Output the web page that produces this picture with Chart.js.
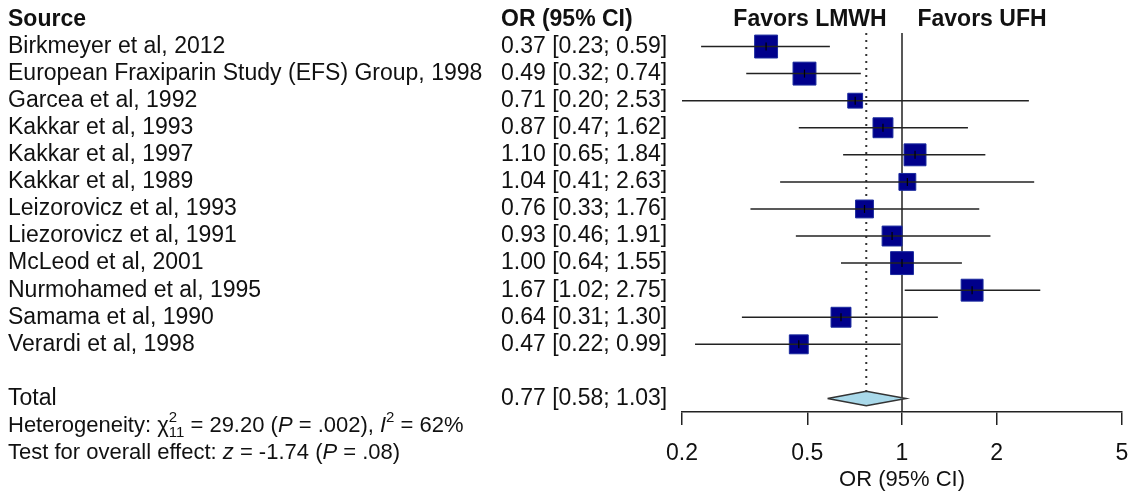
<!DOCTYPE html>
<html>
<head>
<meta charset="utf-8">
<script src="https://cdn.jsdelivr.net/npm/chart.js@4.4.1/dist/chart.umd.min.js"></script>
<style>
  html, body { margin: 0; background: #fff; }
</style>
</head>
<body>
<canvas id="forest" width="1130" height="493"></canvas>
<script>
// Forest plot: LMWH vs UFH

const studies = [
    'Birkmeyer et al, 2012',
    'European Fraxiparin Study (EFS) Group, 1998',
    'Garcea et al, 1992',
    'Kakkar et al, 1993',
    'Kakkar et al, 1997',
    'Kakkar et al, 1989',
    'Leizorovicz et al, 1993',
    'Liezorovicz et al, 1991',
    'McLeod et al, 2001',
    'Nurmohamed et al, 1995',
    'Samama et al, 1990',
    'Verardi et al, 1998'
];
const oddsRatios = [0.37, 0.49, 0.71, 0.87, 1.10, 1.04, 0.76, 0.93, 1.00, 1.67, 0.64, 0.47];
const ciLow      = [0.23, 0.32, 0.20, 0.47, 0.65, 0.41, 0.33, 0.46, 0.64, 1.02, 0.31, 0.22];
const ciHigh     = [0.59, 0.74, 2.53, 1.62, 1.84, 2.63, 1.76, 1.91, 1.55, 2.75, 1.30, 0.99];
const weights    = [10.7, 10.7, 4.5, 8.1, 9.8, 5.8, 6.5, 8.1, 10.7, 9.8, 8.1, 7.3];

const totalOR = 0.77;
const totalLow = 0.58;
const totalHigh = 1.03;

const tickValues = [0.2, 0.5, 1, 2, 5];

const TOTAL_ROW = studies.length + 1;
const FONT = "'Liberation Sans', Arial, sans-serif";
const INK = '#111';
const LINE = '#222';

const fmt = v => v.toFixed(2);
const orLabel = (o, l, h) => `${fmt(o)} [${fmt(l)}; ${fmt(h)}]`;

// CI whiskers, one small dataset per study
const whiskers = studies.map((s, i) => ({
    data: [{ x: ciLow[i], y: i }, { x: ciHigh[i], y: i }],
    showLine: true, borderColor: LINE, borderWidth: 1.5, pointRadius: 0, order: 1
}));

const DIAMOND_H = 0.27;

// texts around the plot
const textPlugin = {
    id: 'forestText',
    afterDraw(chart) {
        const { ctx, scales: { y } } = chart;
        ctx.save();
        ctx.fillStyle = INK;
        ctx.textBaseline = 'middle';

        // header
        const hy = y.getPixelForValue(-1);
        ctx.font = `bold 23px ${FONT}`;
        ctx.textAlign = 'left';
        ctx.fillText('Source', 8, hy);
        ctx.fillText('OR (95% CI)', 501, hy);
        ctx.textAlign = 'center';
        ctx.fillText('Favors LMWH', 810, hy);
        ctx.fillText('Favors UFH', 982, hy);

        ctx.textAlign = 'left';
        ctx.font = `23px ${FONT}`;
        studies.forEach((s, i) => {
            const py = y.getPixelForValue(i);
            ctx.fillText(s, 8, py);
            ctx.fillText(orLabel(oddsRatios[i], ciLow[i], ciHigh[i]), 501, py);
        });
        const ty = y.getPixelForValue(TOTAL_ROW);
        ctx.fillText('Total', 8, ty);
        ctx.fillText(orLabel(totalOR, totalLow, totalHigh), 501, ty);

        // heterogeneity / overall effect lines
        const base = 22, small = 15;
        const rich = (parts, x, py) => {
            parts.forEach(p => {
                if (p.stack) {
                    ctx.font = `${small}px ${FONT}`;
                    ctx.fillText(p.sup, x, py - 8);
                    ctx.fillText(p.sub, x, py + 7);
                    x += Math.max(ctx.measureText(p.sup).width, ctx.measureText(p.sub).width);
                    return;
                }
                if (p.sup) {
                    ctx.font = `${small}px ${FONT}`;
                    ctx.fillText(p.sup, x, py - 8);
                    x += ctx.measureText(p.sup).width;
                    return;
                }
                ctx.font = `${p.i ? 'italic ' : ''}${base}px ${FONT}`;
                ctx.fillText(p.t, x, py);
                x += ctx.measureText(p.t).width;
            });
        };
        rich([
            { t: 'Heterogeneity: \u03C7' }, { stack: true, sup: '2', sub: '11' },
            { t: ' = 29.20 (' }, { t: 'P', i: true }, { t: ' = .002), ' },
            { t: 'I', i: true }, { sup: '2' }, { t: ' = 62%' }
        ], 8, y.getPixelForValue(TOTAL_ROW + 1));
        rich([
            { t: 'Test for overall effect: ' }, { t: 'z', i: true }, { t: ' = -1.74 (' },
            { t: 'P', i: true }, { t: ' = .08)' }
        ], 8, y.getPixelForValue(TOTAL_ROW + 2));
        ctx.restore();
    }
};

new Chart(document.getElementById('forest'), {
    type: 'scatter',
    data: {
        datasets: [
            // centre crosses
            {
                data: oddsRatios.map((v, i) => ({ x: v, y: i })),
                pointStyle: 'line', rotation: 90, pointRadius: 4,
                borderColor: '#000', borderWidth: 1.2, order: 0
            },
            ...whiskers,
            // weighted squares
            {
                data: oddsRatios.map((v, i) => ({ x: v, y: i })),
                pointStyle: 'rect',
                pointRadius: weights.map(w => 7 * Math.sqrt(w) / Math.SQRT2),
                backgroundColor: '#00008B', borderColor: '#1a2a9e', borderWidth: 1, order: 2
            },
            // pooled diamond
            {
                data: [
                    { x: totalLow, y: TOTAL_ROW }, { x: totalOR, y: TOTAL_ROW - DIAMOND_H },
                    { x: totalHigh, y: TOTAL_ROW }, { x: totalOR, y: TOTAL_ROW + DIAMOND_H },
                    { x: totalLow, y: TOTAL_ROW }
                ],
                showLine: true, fill: 'shape', pointRadius: 0,
                backgroundColor: '#a9d9ea', borderColor: '#333', borderWidth: 1.5, order: 3
            },
            // pooled estimate dotted line
            {
                data: [{ x: totalOR, y: -0.5 }, { x: totalOR, y: TOTAL_ROW - DIAMOND_H }],
                showLine: true, pointRadius: 0, borderColor: '#333', borderWidth: 2,
                borderDash: [2, 5], order: 4
            },
            // line of no effect
            {
                data: [{ x: 1, y: -0.5 }, { x: 1, y: TOTAL_ROW + 0.5 }],
                showLine: true, pointRadius: 0, borderColor: LINE, borderWidth: 1.5, order: 5
            }
        ]
    },
    options: {
        responsive: false,
        animation: false,
        events: [],
        layout: { autoPadding: false, padding: { left: 682, right: 8, top: 33, bottom: 0 } },
        plugins: { legend: { display: false }, tooltip: { enabled: false } },
        scales: {
            x: {
                type: 'logarithmic',
                min: 0.2, max: 5,
                afterBuildTicks: s => { s.ticks = tickValues.map(v => ({ value: v })); },
                // fixed axis box: no label overflow padding
                afterFit: s => { s.height = 81; s.paddingLeft = 0; s.paddingRight = 0; },
                grid: { drawOnChartArea: false, drawTicks: true, tickLength: 13, color: LINE, lineWidth: 1.5 },
                border: { display: true, color: LINE, width: 1.5 },
                ticks: {
                    color: INK, padding: 15, maxRotation: 0,
                    font: { family: FONT, size: 23 },
                    callback: v => String(v)
                },
                title: {
                    display: true, text: 'OR (95% CI)', color: INK,
                    font: { family: FONT, size: 22 }, padding: { top: 0, bottom: 0 }
                }
            },
            y: {
                type: 'linear', display: false, reverse: true,
                min: -0.5, max: TOTAL_ROW + 0.5
            }
        }
    },
    plugins: [textPlugin]
});
</script>
</body>
</html>
